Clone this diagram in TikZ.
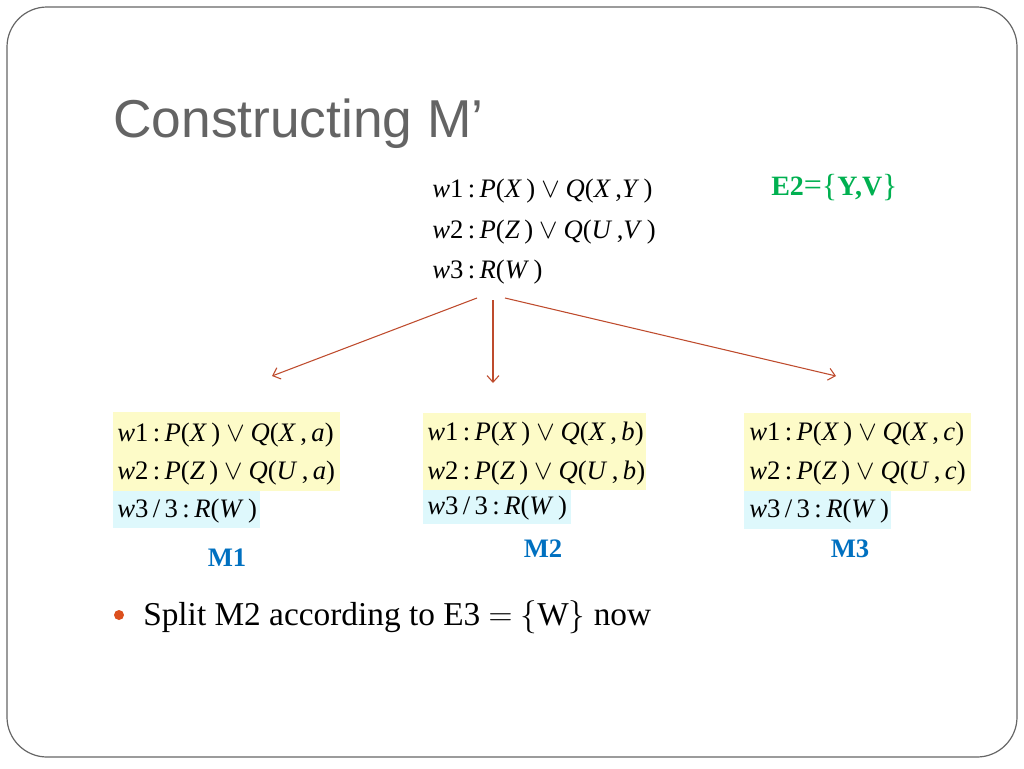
\documentclass[tikz,border=0pt]{standalone}
\usepackage{fontspec}
\setmainfont{Liberation Serif}
\newfontfamily\titlefont{Liberation Sans}
\usetikzlibrary{calc,arrows.meta}
\definecolor{titlegray}{RGB}{100,100,100}
\definecolor{arrowred}{RGB}{190,75,45}
\definecolor{egreen}{RGB}{0,176,80}
\definecolor{mblue}{RGB}{0,112,192}
\definecolor{ylw}{RGB}{253,251,200}
\definecolor{cyn}{RGB}{222,248,252}
\definecolor{dotred}{RGB}{220,80,30}
\newcommand\wlab[1]{\textit{w}#1\,:\,}
\newcommand\iv[1]{\textit{#1}}
\newcommand\ror{\:$\vee$\:}

\begin{document}
\begin{tikzpicture}[x=0.75pt,y=-0.75pt,
  clause/.style={anchor=base west, inner sep=0pt, font=\fontsize{20}{20}\selectfont},
  mlabel/.style={anchor=base, inner sep=0pt, text=mblue, font=\fontsize{20}{20}\selectfont\bfseries},
  split/.style={-{Straight Barb[length=5pt,width=9pt]}, draw=arrowred, line width=0.8pt}]
			%%%%% START %%%%%
			\useasboundingbox (0,0) rectangle (1024,768);
			\draw[gray!80!black, line width=0.9pt, rounded corners=30pt] (7,7) rectangle (1017,757);
			
			\node[anchor=base west, inner sep=0pt, text=titlegray, font=\fontsize{40}{40}\selectfont\titlefont] (title) at (113,137) {Constructing M’};
			
			% the clauses of M
			\node[clause] (w1) at (432,197) {\wlab{1}\iv{P}(\iv{X}\,)\ror\iv{Q}(\iv{X}\,,\iv{Y}\,)};
			\node[clause] (w2) at (432,238) {\wlab{2}\iv{P}(\iv{Z}\,)\ror\iv{Q}(\iv{U}\,,\iv{V}\,)};
			\node[clause] (w3) at (432,278) {\wlab{3}\iv{R}(\iv{W}\,)};
			\node[anchor=base west, inner sep=0pt, text=egreen, font=\fontsize{21}{21}\selectfont\bfseries] (e2) at (771,195)
			  {E2{\fontsize{24}{24}\selectfont\mdseries=\raisebox{-1pt}{\{}}Y,V{\fontsize{24}{24}\selectfont\mdseries\raisebox{-1pt}{\}}}};
			
			% splits
			\coordinate (s1) at (477,298);
			\coordinate (s2) at (493,300);
			\coordinate (s3) at (505,298);
			\coordinate (t1) at (272,376);
			\coordinate (t2) at (493,383);
			\coordinate (t3) at (836,376);
			\draw[split] (s1) -- (t1);
			\draw[split] (s2) -- (t2);
			\draw[split] (s3) -- (t3);
			
			% M1
			\fill[ylw] (113,412) rectangle (340,491);
			\fill[cyn] (113,491) rectangle (260,528);
			\node[clause] (m1a) at (117,441) {\wlab{1}\iv{P}(\iv{X}\,)\ror\iv{Q}(\iv{X}\,,\,\iv{a})};
			\node[clause] (m1b) at (117,479) {\wlab{2}\iv{P}(\iv{Z}\,)\ror\iv{Q}(\iv{U}\,,\,\iv{a})};
			\node[clause] (m1c) at (117,517) {\iv{w}3\,/\,3\,:\,\iv{R}(\iv{W}\,)};
			\node[mlabel] (m1) at (227,566) {M1};
			
			% M2
			\fill[ylw] (423,413) rectangle (646,490);
			\fill[cyn] (423,490) rectangle (571,524);
			\node[clause] (m2a) at (427,440) {\wlab{1}\iv{P}(\iv{X}\,)\ror\iv{Q}(\iv{X}\,,\,\iv{b})};
			\node[clause] (m2b) at (427,479) {\wlab{2}\iv{P}(\iv{Z}\,)\ror\iv{Q}(\iv{U}\,,\,\iv{b})};
			\node[clause] (m2c) at (427,514) {\iv{w}3\,/\,3\,:\,\iv{R}(\iv{W}\,)};
			\node[mlabel] (m2) at (543,557) {M2};
			
			% M3
			\fill[ylw] (744,413) rectangle (971,491);
			\fill[cyn] (744,491) rectangle (891,529);
			\node[clause] (m3a) at (749,440) {\wlab{1}\iv{P}(\iv{X}\,)\ror\iv{Q}(\iv{X}\,,\,\iv{c})};
			\node[clause] (m3b) at (749,479) {\wlab{2}\iv{P}(\iv{Z}\,)\ror\iv{Q}(\iv{U}\,,\,\iv{c})};
			\node[clause] (m3c) at (749,517) {\iv{w}3\,/\,3\,:\,\iv{R}(\iv{W}\,)};
			\node[mlabel] (m3) at (850,557) {M3};
			
			% bullet
			\fill[dotred] (119,615) circle (5);
			\node[anchor=base west, inner sep=0pt, font=\fontsize{25}{25}\selectfont] (note) at (143,625) {Split M2 according to E3 $=$ $\{$W$\}$ now};
			%%%%% END %%%%%
\end{tikzpicture}
\end{document}
